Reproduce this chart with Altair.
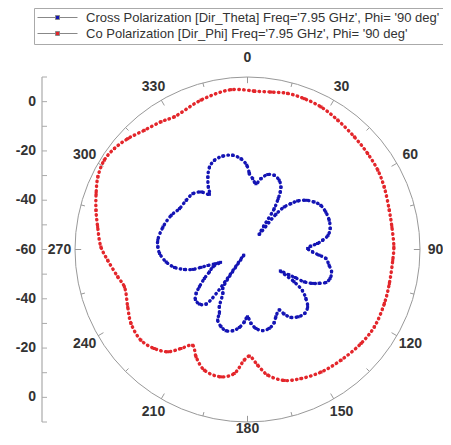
import altair as alt
import pandas as pd

CROSS = "Cross Polarization [Dir_Theta] Freq='7.95 GHz', Phi= '90 deg'"
CO = "Co Polarization [Dir_Phi] Freq='7.95 GHz', Phi= '90 deg'"

# Co polarization (red): angle in degrees, gain in dB
co_ang = [2.5, 8.5, 14.4, 20.6, 27.3, 34.9, 43.5, 51.4, 58.7, 65.4, 74.5, 81.1, 89.0,
          94.2, 103.5, 111.5, 121.4, 129.6, 139.8, 149.0, 157.5, 164.3, 170.9, 175.0,
          179.0, 181.7, 186.1, 191.8, 199.7, 205.6, 209.8, 213.9, 217.9, 223.3, 229.6,
          237.6, 244.4, 253.1, 258.1, 265.6, 271.0, 278.6, 284.5, 290.3, 295.9, 301.9,
          307.2, 312.8, 319.1, 325.9, 331.1, 342.7, 354.1]
co_db = [4.3, 4.6, 5.4, 5.4, 5.1, 4.0, 3.0, 2.4, 1.9, 1.0, -0.3, -0.7, -0.6,
         -0.9, -0.8, -0.3, 0.3, -0.2, -1.2, -2.0, -3.3, -4.8, -8.4, -12.9,
         -16.7, -15.1, -9.4, -7.2, -8.0, -11.7, -15.2, -11.6, -7.4, -4.8, -3.2,
         -4.0, -6.1, -7.8, -6.2, -3.1, -0.5, 1.5, 3.5, 5.5, 7.5, 8.5,
         7.8, 6.2, 4.0, 2.6, 1.5, 3.5, 5.2]

# Cross polarization (blue)
cross_ang = [1.4, 4.2, 7.3, 10.8, 15.1, 19.8, 24.6, 28.2, 29.7, 31.1, 33.2, 34.8, 37.6,
             38.9, 40.8, 43.4, 45.9, 49.9, 54.5, 58.9, 64.4, 70.3, 75.8, 80.0, 83.0,
             85.1, 87.0, 89.0, 92.1, 94.5, 96.5, 100.9, 104.9, 109.3, 112.8, 115.3,
             117.5, 119.7, 120.5, 121.5, 123.1, 124.7, 126.9, 130.0, 133.6, 138.1,
             143.0, 147.4, 150.4, 152.3, 157.1, 160.0, 164.6, 169.4, 173.9, 177.3,
             180.0, 182.5, 186.0, 190.3, 194.8, 198.9, 202.9, 203.8, 206.2, 209.4,
             212.5, 213.7, 217.2, 221.4, 226.2, 229.5, 232.2, 236.1, 239.6, 243.4,
             244.5, 246.0, 248.0, 249.0, 250.0, 252.4, 256.2, 261.3, 267.4, 271.7,
             275.9, 284.9, 294.2, 301.0, 308.7, 315.6, 321.1, 325.4, 327.9, 331.3,
             335.2, 339.6, 345.2, 351.1, 355.9, 359.5]
cross_db = [-29.2, -31.2, -33.1, -30.7, -28.5, -28.0, -29.1, -31.3, -33.2, -35.9, -40.2, -48.5, -52.2,
            -41.6, -37.2, -34.4, -31.7, -29.0, -26.8, -25.3, -24.8, -24.8, -25.4, -26.8, -29.3,
            -31.5, -34.3, -35.6, -33.6, -30.9, -28.0, -26.3, -24.7, -24.5, -25.5, -27.9,
            -30.2, -33.5, -37.6, -40.3, -44.1, -37.0, -32.1, -29.1, -26.3, -25.2,
            -25.8, -27.3, -29.9, -32.3, -30.4, -28.4, -26.8, -26.5, -27.8, -30.0,
            -32.7, -30.6, -28.2, -26.5, -25.9, -26.9, -28.9, -31.7, -34.1, -39.6,
            -41.3, -57.2, -32.2, -30.5, -30.7, -32.6, -35.3, -38.9, -42.1, -44.3,
            -47.9, -45.9, -42.7, -39.8, -36.4, -33.2, -29.5, -26.6, -24.3, -23.6,
            -23.4, -24.5, -26.1, -27.8, -28.1, -28.3, -30.0, -32.8, -30.1, -26.5,
            -23.2, -21.4, -20.8, -21.3, -23.1, -25.8]

angle_labels = [0, 30, 60, 90, 120, 150, 180, 210, 240, 270, 300, 330]
angle_ticks = list(range(0, 360, 15))
radial_ticks = [-70, -60, -50, -40, -30, -20, -10, 0, 10, 20, 30, 40, 50, 60, 70]
radial_label_pos = [60, 40, 20, 0, -20, -40, -60]
radial_label_txt = ["0", "-20", "-40", "-60", "-40", "-20", "0"]

BLUE = "#1414b4"
RED = "#e3262b"
FONT = "Liberation Sans"
SIZE = 345  # plot area in px, domain [-70, 70]


def series_frame(ang, db, name):
    a = list(ang) + [ang[0] + 360]
    d = list(db) + [db[0]]
    return pd.DataFrame({"ang": a, "db": d, "series": name, "i": range(len(a))})


data = pd.concat([series_frame(cross_ang, cross_db, CROSS),
                  series_frame(co_ang, co_db, CO)], ignore_index=True)

sc = alt.Scale(domain=[-70, 70], nice=False, zero=False)
X = alt.X("x:Q", scale=sc, axis=None)
Y = alt.Y("y:Q", scale=sc, axis=None)

base = alt.Chart(data).transform_calculate(
    x="(datum.db + 60) * sin(datum.ang * PI / 180)",
    y="(datum.db + 60) * cos(datum.ang * PI / 180)",
)

lines = []
for name, col in [(CO, RED), (CROSS, BLUE)]:
    lines.append(
        base.transform_filter(alt.datum.series == name).mark_line(
            interpolate="catmull-rom", color=col, strokeWidth=3.4,
            strokeDash=[0.5, 4.3], strokeCap="round"
        ).encode(x=X, y=Y, order="i:Q")
    )

legend_path = "M-1,0H-0.1M0.1,0H1M-0.1,-0.1H0.1V0.1H-0.1Z"
points = base.mark_square(size=9, opacity=1).encode(
    x=X, y=Y,
    color=alt.Color("series:N",
                    scale=alt.Scale(domain=[CROSS, CO], range=[BLUE, RED]),
                    legend=alt.Legend(
                        title=None, orient="none", legendX=-41, legendY=-69,
                        symbolType=legend_path, symbolSize=1600,
                        symbolStrokeColor="#888", symbolStrokeWidth=1,
                        labelLimit=600, clipHeight=13, rowPadding=2,
                        padding=3, strokeColor="#aaa", fillColor="white",
                        labelFont=FONT, labelFontSize=13, labelColor="#333",
                        labelOffset=8)),
)

circle = alt.Chart(pd.DataFrame({"x": [0], "y": [0]})).mark_point(
    shape="circle", size=SIZE * SIZE, filled=False, stroke="#999",
    strokeWidth=1, opacity=1
).encode(x=X, y=Y)

ticks = alt.Chart(pd.DataFrame({"ang": angle_ticks})).transform_calculate(
    inner="datum.ang % 30 == 0 ? 67.5 : 68.3",
    x="70 * sin(datum.ang * PI / 180)",
    y="70 * cos(datum.ang * PI / 180)",
    x2="datum.inner * sin(datum.ang * PI / 180)",
    y2="datum.inner * cos(datum.ang * PI / 180)",
).mark_rule(color="#999", strokeWidth=1).encode(x=X, y=Y, x2="x2:Q", y2="y2:Q")

# label ring radius; the bottom label is pulled in a little so it fits the page
alabels = alt.Chart(pd.DataFrame({"ang": angle_labels})).transform_calculate(
    rl="datum.ang == 180 ? 72.7 : (datum.ang == 0 ? 77.6 : 76.3)",
    x="datum.rl * sin(datum.ang * PI / 180)",
    y="datum.rl * cos(datum.ang * PI / 180)",
    t="'' + datum.ang",
).mark_text(font=FONT, fontSize=14, fontWeight="bold", color="#333",
            align="center", baseline="middle").encode(x=X, y=Y, text="t:N")

raxis = alt.Chart(pd.DataFrame({"y": [-70], "y2": [70]})).mark_rule(
    color="#aaa", strokeWidth=1.2
).encode(x=alt.value(-33), y=Y, y2="y2:Q")

rticks = alt.Chart(pd.DataFrame({"y": radial_ticks})).mark_rule(
    color="#aaa", strokeWidth=1
).encode(x=alt.value(-33), x2=alt.value(-28), y=Y)

rlabels = alt.Chart(pd.DataFrame({"y": radial_label_pos, "t": radial_label_txt})).mark_text(
    font=FONT, fontSize=14, fontWeight="bold", color="#333", align="right",
    baseline="middle"
).encode(x=alt.value(-39), y=Y, text="t:N")

chart = alt.layer(circle, ticks, alabels, raxis, rticks, rlabels, *lines, points).properties(
    width=SIZE, height=SIZE,
    background="white",
    autosize=alt.AutoSizeParams(type="none"),
    padding={"left": 67, "top": 69, "right": 23, "bottom": 15},
).configure_view(stroke=None)

chart.save("out.html", embed_options={"renderer": "svg", "actions": False})
